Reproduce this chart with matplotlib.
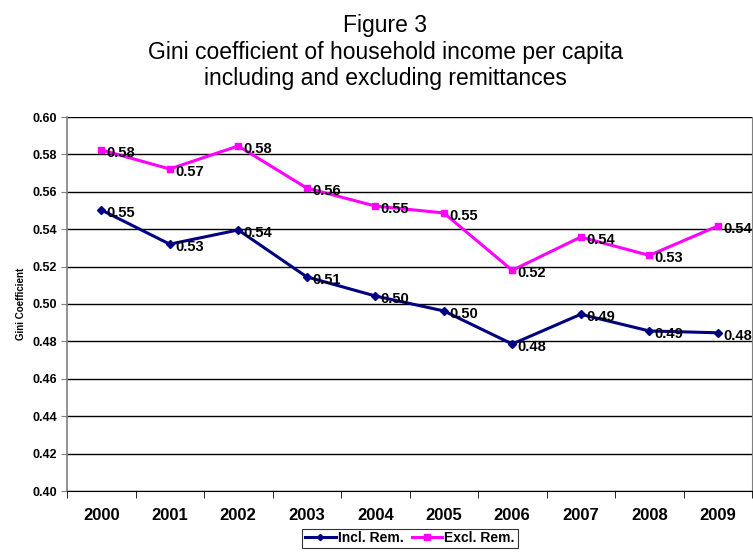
import matplotlib

matplotlib.use("Agg")
import matplotlib.pyplot as plt  # noqa: E402
import numpy as np  # noqa: E402

plt.rcParams["font.family"] = ["Liberation Sans", "DejaVu Sans"]

YEARS = ["2000", "2001", "2002", "2003", "2004", "2005", "2006", "2007", "2008", "2009"]
INCL_REM = [0.5503, 0.5320, 0.5396, 0.5145, 0.5043, 0.4963, 0.4786, 0.4945, 0.4856, 0.4846]
EXCL_REM = [0.5824, 0.5722, 0.5845, 0.5620, 0.5524, 0.5487, 0.5180, 0.5358, 0.5260, 0.5417]
Y_TICKS = [0.40, 0.42, 0.44, 0.46, 0.48, 0.50, 0.52, 0.54, 0.56, 0.58, 0.60]

fig = plt.figure(figsize=(7.53, 5.56), dpi=100)
ax = fig.add_axes([67 / 753, 1 - 491 / 556, 685 / 753, 374 / 556])

xs = np.arange(len(YEARS))
ax.plot(xs, INCL_REM, color="#000080", lw=2.2, marker="D", ms=4, label="Incl. Rem.", zorder=3)
ax.plot(xs, EXCL_REM, color="#FF00FF", lw=2.2, marker="s", ms=5, label="Excl. Rem.", zorder=3)

for series in (INCL_REM, EXCL_REM):
    for x, v in zip(xs, series):
        ax.annotate(f"{v:.2f}", (x, v), xytext=(4, -2), textcoords="offset points",
                    ha="left", va="center", fontsize=10.5, fontweight="bold",
                    zorder=4, annotation_clip=False)

ax.set_xlim(-0.5, len(YEARS) - 0.5)
ax.set_ylim(0.40, 0.60)
ax.set_yticks(Y_TICKS)
ax.set_yticklabels([f"{t:.2f}" for t in Y_TICKS], fontsize=9, fontweight="bold")
ax.set_xticks(xs)
ax.set_xticklabels(YEARS, fontsize=12, fontweight="bold")
ax.set_xticks(np.arange(-0.5, len(YEARS)), minor=True)
ax.tick_params(axis="x", which="major", length=0, pad=12)
ax.tick_params(axis="x", which="minor", length=5, color="black")
ax.tick_params(axis="y", length=4, color="#808080", pad=3)

ax.yaxis.grid(True, color="black", lw=1)
ax.set_axisbelow(True)
ax.spines["top"].set_visible(False)
ax.spines["left"].set_color("#808080")
ax.spines["left"].set_linewidth(1.2)
ax.spines["right"].set_color("#808080")
ax.spines["bottom"].set_color("black")
ax.set_ylabel("Gini Coefficient", fontsize=7, fontweight="bold", labelpad=5)

fig.text(385 / 753, 1 - 14 / 556,
         "Figure 3\nGini coefficient of household income per capita\nincluding and excluding remittances",
         ha="center", va="top", fontsize=16.5, linespacing=1.2)

leg = fig.legend(loc="lower center", bbox_to_anchor=(410 / 753, 1 / 556), ncol=2,
                 frameon=True, fancybox=False, edgecolor="black",
                 prop={"size": 10, "weight": "bold"}, handlelength=2.2,
                 handletextpad=0.15, columnspacing=0.6, borderpad=0.2, markerscale=0.8)
leg.get_frame().set_linewidth(0.8)

fig.savefig("out.png", dpi=100)
